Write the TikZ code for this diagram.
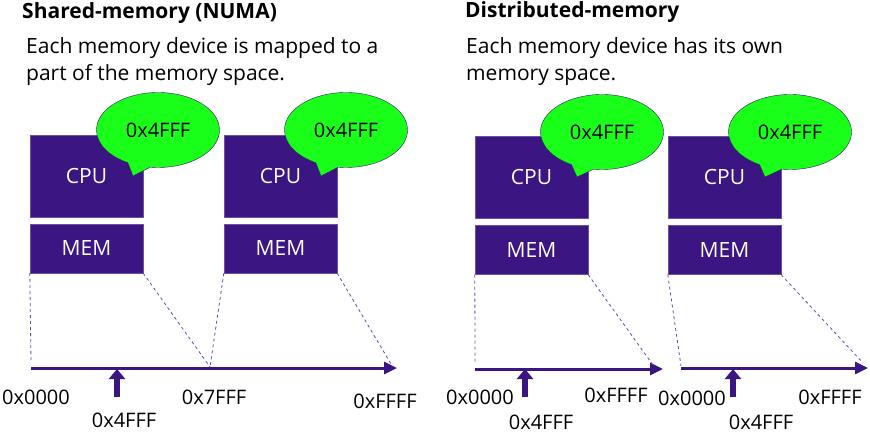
\documentclass[tikz,border=0pt]{standalone}
\usepackage{fontspec}
\setmainfont{Open Sans}
\usetikzlibrary{shapes,shapes.callouts,arrows.meta,positioning,calc}
\definecolor{cpucolor}{RGB}{59,21,130}
\definecolor{linkcolor}{RGB}{100,75,170}
\definecolor{bubblecolor}{RGB}{26,255,26}
\definecolor{bubbleline}{RGB}{45,30,95}

\begin{document}
\begin{tikzpicture}[x=1pt, y=-1pt,
    unit/.style={rectangle, fill=cpucolor, draw=cpucolor!75, text=white, minimum width=113pt, inner sep=0pt, font=\fontsize{21}{24}\selectfont},
    cpu/.style={unit, minimum height=82pt},
    mem/.style={unit, minimum height=49pt},
    bubble/.style={ellipse callout, callout pointer arc=22, fill=bubblecolor, draw=bubbleline, minimum width=123pt, minimum height=75pt, inner sep=0pt, font=\fontsize{20}{24}\selectfont},
    title/.style={anchor=base west, inner sep=0pt, font=\fontsize{21}{24}\selectfont\bfseries},
    note/.style={anchor=base west, inner sep=0pt, align=left, font=\fontsize{21}{27}\selectfont},
    addr/.style={inner sep=0pt, font=\fontsize{20}{22}\selectfont},
    space/.style={draw=cpucolor, line width=3pt, -{Triangle[length=13pt,width=12pt]}},
    link/.style={draw=linkcolor, dashed, line width=0.8pt},
    pointer/.style={draw=cpucolor, line width=6.5pt, -{Triangle[length=10pt,width=16pt]}}
]
\useasboundingbox (0,0) rectangle (870,439);

% Titles
\node[title] (titleA) at (22,18) {Shared-memory (NUMA)};
\node[note] (noteA) at (26,80) {Each memory device is mapped to a\\part of the memory space.};
\node[title] (titleB) at (465,17) {Distributed-memory};
\node[note] (noteB) at (466,80) {Each memory device has its own\\memory space.};

% Shared-memory nodes
\node[cpu] (cpuA) at (86.5,176) {CPU};
\node[mem] (memA) at (86.5,248.5) {MEM};
\node[cpu] (cpuB) at (280.5,176) {CPU};
\node[mem] (memB) at (280.5,248.5) {MEM};
\node[bubble, callout absolute pointer={(133,176)}] (bubA) at (158,130) {0x4FFF};
\node[bubble, callout absolute pointer={(321,176)}] (bubB) at (346,130) {0x4FFF};

% Shared address space
\coordinate (spaceA0) at (31,368);
\coordinate (spaceA1) at (397,368);
\coordinate (endA0) at (31,362);
\coordinate (endA1) at (210,367);
\coordinate (endB1) at (391,364);
\draw[space] (spaceA0) -- (spaceA1);
\draw[link] (memA.south west) -- (endA0);
\draw[link] (memA.south east) -- (endA1);
\draw[link] (memB.south west) -- (endA1);
\draw[link] (memB.south east) -- (endB1);

\node[addr] (lowA) at (36,397) {0x0000};
\node[addr] (hitA) at (124,420) {0x4FFF};
\node[addr] (midA) at (214,397) {0x7FFF};
\node[addr] (highA) at (385,401) {0xFFFF};
\coordinate (tipA) at (117,369);
\draw[pointer] (117,397) -- (tipA);

% Distributed-memory nodes
\node[cpu] (cpuC) at (531.5,177) {CPU};
\node[mem] (memC) at (531.5,250) {MEM};
\node[cpu] (cpuD) at (724.5,177) {CPU};
\node[mem] (memD) at (724.5,250) {MEM};
\node[bubble, callout absolute pointer={(577,177)}] (bubC) at (602,132) {0x4FFF};
\node[bubble, callout absolute pointer={(765,177)}] (bubD) at (790,132) {0x4FFF};

% Separate address spaces
\coordinate (spaceC0) at (475,369);
\coordinate (spaceC1) at (663,369);
\coordinate (spaceD0) at (681,368);
\coordinate (spaceD1) at (868,368);
\coordinate (endC0) at (475,362);
\coordinate (endC1) at (653,365);
\coordinate (endD0) at (681,366);
\coordinate (endD1) at (863,363);
\draw[space] (spaceC0) -- (spaceC1);
\draw[space] (spaceD0) -- (spaceD1);
\draw[link] (memC.south west) -- (endC0);
\draw[link] (memC.south east) -- (endC1);
\draw[link] (memD.south west) -- (endD0);
\draw[link] (memD.south east) -- (endD1);

\node[addr] (lowC) at (480,397) {0x0000};
\node[addr] (hitC) at (541,422) {0x4FFF};
\node[addr] (highC) at (616,395) {0xFFFF};
\node[addr] (lowD) at (692,398) {0x0000};
\node[addr] (hitD) at (761,422) {0x4FFF};
\node[addr] (highD) at (830,397) {0xFFFF};
\draw[pointer] (525,397) -- (525,369);
\draw[pointer] (733,397) -- (733,369);

\end{tikzpicture}
\end{document}
